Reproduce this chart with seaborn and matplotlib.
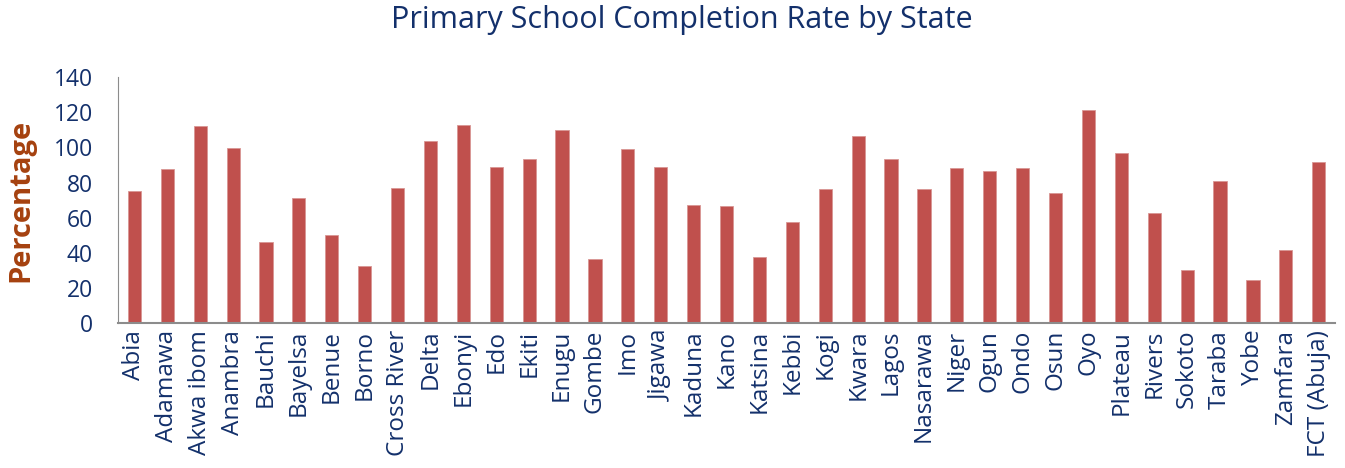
import seaborn as sns
import matplotlib.pyplot as plt
import pandas as pd

# States and completion rates
states = ["Abia", "Adamawa", "Akwa ibom", "Anambra", "Bauchi", "Bayelsa", "Benue",
          "Borno", "Cross River", "Delta", "Ebonyi", "Edo", "Ekiti", "Enugu", "Gombe",
          "Imo", "Jigawa", "Kaduna", "Kano", "Katsina", "Kebbi", "Kogi", "Kwara",
          "Lagos", "Nasarawa", "Niger", "Ogun", "Ondo", "Osun", "Oyo", "Plateau",
          "Rivers", "Sokoto", "Taraba", "Yobe", "Zamfara", "FCT (Abuja)"]
rates = [75.3, 87.8, 112.1, 99.8, 45.9, 71.3, 50.3, 32.3, 76.8, 103.8, 112.9, 89.0,
         93.3, 109.7, 36.4, 99.0, 88.8, 67.3, 66.8, 37.6, 57.7, 76.3, 106.4, 93.5,
         76.5, 88.4, 86.7, 88.2, 74.2, 121.2, 96.9, 62.6, 30.2, 81.0, 24.7, 41.5, 91.8]
y_ticks = [0, 20, 40, 60, 80, 100, 120, 140]

df = pd.DataFrame({"state": states, "rate": rates})

sns.set_style("white")
plt.rcParams['font.family'] = ['Open Sans', 'DejaVu Sans']

navy = "#13306B"
fig = plt.figure(figsize=(13.45, 4.68), dpi=100)
ax = fig.add_axes([0.0877, 0.310, 0.905, 0.525])

sns.barplot(data=df, x="state", y="rate", color="#C0504D", width=0.4,
            saturation=1, edgecolor="#D99694", linewidth=0.6, ax=ax)

ax.set_ylim(0, 140)
ax.set_yticks(y_ticks)
ax.set_xlim(-0.5, len(states) - 0.5)
ax.tick_params(axis="y", labelsize=16.5, labelcolor=navy, length=0, pad=18)
ax.tick_params(axis="x", labelsize=17.5, labelcolor=navy, length=0, pad=5, rotation=90)
ax.set_xlabel("")
ax.set_ylabel("Percentage", fontsize=21, fontweight="bold", color="#A5410F", labelpad=13)

for side in ["top", "right"]:
    ax.spines[side].set_visible(False)
ax.spines["left"].set_color("#8C8C8C")
ax.spines["bottom"].set_color("#8C8C8C")
ax.spines["bottom"].set_linewidth(1.5)

fig.suptitle("Primary School Completion Rate by State", fontsize=22, color=navy,
             x=0.507, y=0.99)

plt.savefig("out.png", dpi=100)
plt.close()
